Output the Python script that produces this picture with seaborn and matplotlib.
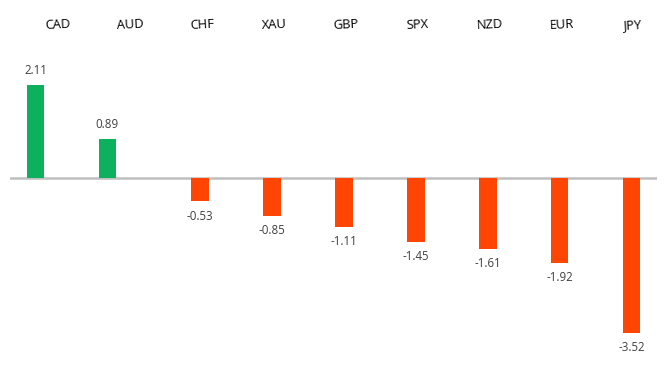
import pandas as pd
import numpy as np
import matplotlib
matplotlib.use("Agg")
import matplotlib.pyplot as plt
import seaborn as sns

sns.set_theme(style="white")
plt.rcParams["font.family"] = ["Open Sans", "DejaVu Sans"]

# data
currencies = ["CAD", "AUD", "CHF", "XAU", "GBP", "SPX", "NZD", "EUR", "JPY"]
changes = [2.11, 0.89, -0.53, -0.85, -1.11, -1.45, -1.61, -1.92, -3.52]

df = pd.DataFrame({"ccy": currencies, "chg": changes})
df["sign"] = np.where(df["chg"] >= 0, "up", "down")

fig = plt.figure(figsize=(6.67, 3.69), dpi=100)
ax = fig.add_axes([0.015, 0.0, 0.97, 1.0])

sns.barplot(data=df, x="ccy", y="chg", hue="sign", hue_order=["up", "down"],
            order=currencies, palette={"up": "#0db05c", "down": "#ff4503"},
            width=0.58, gap=0.15, dodge=True, legend=False, ax=ax,
            saturation=1, linewidth=0)

# value labels
for cont in ax.containers:
    ax.bar_label(cont, fmt="%.2f", padding=6, fontsize=8.3, color="#404040")

# zero line
ax.axhline(0, color="#bfbfbf", lw=1.8, zorder=0)

ax.set_ylim(-4.34, 4.05)
ax.set_xlim(-0.5, len(currencies) - 0.5)
ax.set_xticks([])
ax.set_yticks([])
ax.set_xlabel("")
ax.set_ylabel("")
for s in ax.spines.values():
    s.set_visible(False)

# category labels across the top
for i, c in enumerate(currencies):
    ax.text(i + 0.17, 0.932, c, transform=ax.get_xaxis_transform(),
            ha="center", va="center", fontsize=9.3, color="black", rotation=3)

fig.savefig("out.png", dpi=100)
